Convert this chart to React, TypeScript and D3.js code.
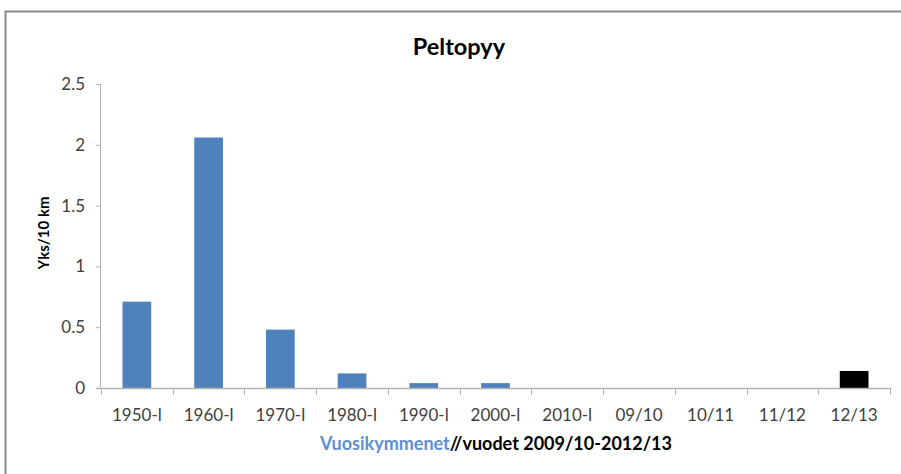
import React, { useEffect, useRef } from "react";
import * as d3 from "d3";

const categories = ["1950-l", "1960-l", "1970-l", "1980-l", "1990-l", "2000-l", "2010-l", "09/10", "10/11", "11/12", "12/13"];
const values = [0.71, 2.06, 0.48, 0.12, 0.04, 0.04, 0, 0, 0, 0, 0.14];
const barColors = ["#4F81BD", "#4F81BD", "#4F81BD", "#4F81BD", "#4F81BD", "#4F81BD", "#4F81BD", "#4F81BD", "#4F81BD", "#4F81BD", "#000000"];
const yTicks = [0, 0.5, 1, 1.5, 2, 2.5];
const title = "Peltopyy";
const yTitle = "Yks/10 km";
const xTitleBlue = "Vuosikymmenet";
const xTitleRest = "//vuodet 2009/10-2012/13";

const W = 901;
const H = 474;
const FONT = "Lato, 'Open Sans', sans-serif";

export default function App() {
  const ref = useRef<SVGSVGElement | null>(null);

  useEffect(() => {
    const svg = d3.select(ref.current);
    svg.selectAll("*").remove();

    const left = 101, right = 890, top = 84, bottom = 388;
    const x = d3.scaleBand<string>().domain(categories).range([left, right]).paddingInner(0.6).paddingOuter(0.3);
    const xb = d3.scaleBand<string>().domain(categories).range([left, right]);
    const y = d3.scaleLinear().domain([0, 2.5]).range([bottom, top]);

    svg.append("rect").attr("x", 0).attr("y", 0).attr("width", W).attr("height", H).attr("fill", "#fff");

    // outer border (top + left)
    svg.append("path")
      .attr("d", `M5.5,${H} L5.5,11.5 L${W},11.5`)
      .attr("fill", "none").attr("stroke", "#8a8a8a").attr("stroke-width", 2);

    // title
    svg.append("text").attr("x", 459).attr("y", 55).attr("text-anchor", "middle")
      .attr("font-family", FONT).attr("font-weight", "bold").attr("font-size", 23.5).attr("fill", "#000")
      .text(title);

    // bars
    svg.append("g").selectAll("rect").data(categories).join("rect")
      .attr("x", (d) => x(d)!)
      .attr("width", x.bandwidth())
      .attr("y", (d, i) => y(values[i]))
      .attr("height", (d, i) => bottom - y(values[i]))
      .attr("fill", (d, i) => barColors[i]);

    const axisColor = "#b3b3b3";
    // y axis
    const ya = svg.append("g").attr("transform", `translate(${left},0)`)
      .call(d3.axisLeft(y).tickValues(yTicks).tickSize(5).tickPadding(11).tickFormat((d) => String(d)));
    ya.select(".domain").attr("stroke", axisColor).attr("d", `M-0.5,${top}V${bottom}`);
    ya.selectAll(".tick line").attr("stroke", axisColor);
    ya.selectAll("text").attr("font-family", FONT).attr("font-size", 17).attr("fill", "#404040");

    // x axis
    const xa = svg.append("g").attr("transform", `translate(0,${bottom})`);
    xa.append("line").attr("x1", left - 5).attr("x2", right).attr("y1", 0.5).attr("y2", 0.5).attr("stroke", axisColor).attr("stroke-width", 1.5);
    const tickPos = categories.map((c) => xb(c)!).concat([right]);
    xa.selectAll("line.tk").data(tickPos).join("line").attr("class", "tk")
      .attr("x1", (d) => Math.round(d) + 0.5).attr("x2", (d) => Math.round(d) + 0.5)
      .attr("y1", 0).attr("y2", 7).attr("stroke", axisColor);
    xa.selectAll("text").data(categories).join("text")
      .attr("x", (d) => xb(d)! + xb.bandwidth() / 2)
      .attr("y", 33)
      .attr("text-anchor", "middle")
      .attr("font-family", FONT).attr("font-size", 17).attr("fill", "#404040")
      .text((d) => d);

    // y title
    svg.append("text")
      .attr("transform", `translate(49,233) rotate(-90)`)
      .attr("text-anchor", "middle")
      .attr("font-family", FONT).attr("font-weight", "bold").attr("font-size", 15).attr("fill", "#000")
      .text(yTitle);

    // x title
    const xt = svg.append("text").attr("x", 496).attr("y", 450).attr("text-anchor", "middle")
      .attr("font-family", FONT).attr("font-weight", "bold").attr("font-size", 18);
    xt.append("tspan").attr("fill", "#5b8fd6").text(xTitleBlue);
    xt.append("tspan").attr("fill", "#000").text(xTitleRest);
  }, []);

  return (
    <div style={{ position: "absolute", left: 0, top: 0 }}>
      <svg ref={ref} width={W} height={H} style={{ display: "block" }} />
    </div>
  );
}
